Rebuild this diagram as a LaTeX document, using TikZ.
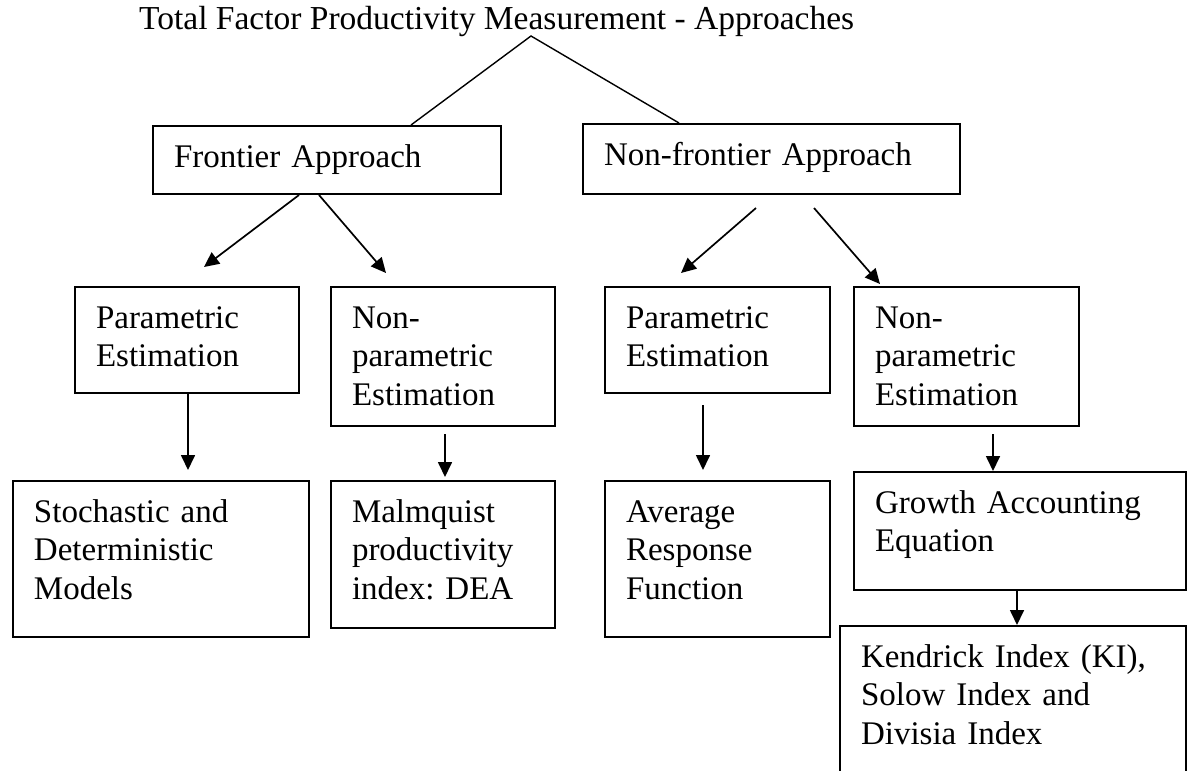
\documentclass[tikz,border=0pt]{standalone}
\usepackage{fontspec}
\setmainfont{Liberation Serif}
\usepackage{tikz}
\usetikzlibrary{calc}
\usetikzlibrary{arrows.meta}
\tikzset{head/.tip={Triangle[length=15pt,width=14pt]}}
\tikzset{
    box/.style 2 args={draw, line width=2pt, anchor=north west, align=left,
        inner xsep=21pt, inner ysep=0pt, text height=41pt,
        text width=#1, text depth=#2},
    flow/.style={-head, line width=1.7pt}
}
\frenchspacing

\begin{document}
\begin{tikzpicture}[x=1pt,y=-1pt,font=\fontsize{33}{38.5}\selectfont]
            \useasboundingbox (0,0) rectangle (1192,771);

            \node (title) [anchor=base west,inner sep=0pt,font=\fontsize{33.5}{38.5}\selectfont] at (139,29) {Total Factor Productivity Measurement - Approaches};
            \coordinate (apex) at (531,36);

            \node (frontier)    [box={306pt}{27pt}] at (152,125)  {Frontier Approach};
            \node (nonfrontier) [box={335pt}{29pt}] at (582,123)  {Non-frontier Approach};

            \node (par1)  [box={182pt}{65pt}]  at (74,286)   {Parametric\\Estimation};
            \node (npar1) [box={182pt}{98pt}]  at (330,286)  {Non-\\parametric\\Estimation};
            \node (par2)  [box={183pt}{65pt}]  at (604,286)  {Parametric\\Estimation};
            \node (npar2) [box={183pt}{98pt}]  at (853,286)  {Non-\\parametric\\Estimation};

            \node (stoch)  [box={254pt}{115pt}] at (12,480)  {Stochastic and\\Deterministic\\Models};
            \node (malm)   [box={182pt}{106pt}] at (330,480) {Malmquist\\productivity\\index: DEA};
            \node (avg)    [box={183pt}{115pt}] at (604,480) {Average\\Response\\Function};
            \node (growth) [box={290pt}{77pt}]  at (853,471) {Growth Accounting\\Equation};
            \node (kend)   [box={304pt}{109pt}] at (839,625) {Kendrick Index (KI),\\Solow Index and\\Divisia Index};

            % title to the two approaches
            \draw[line width=1.4pt] ([xshift=84pt]frontier.north) -- (apex) -- ([xshift=-92.5pt]nonfrontier.north);

            % frontier branch
            \draw[flow] ([xshift=-28pt]frontier.south) -- ([xshift=17pt,yshift=19pt]par1.north);
            \draw[flow] ([xshift=-8pt]frontier.south)  -- ([xshift=-57pt,yshift=13pt]npar1.north);
            \draw[flow] ([xshift=1pt]par1.south)       -- ([xshift=27pt,yshift=10pt]stoch.north);
            \draw[flow] ([xshift=2pt,yshift=-7pt]npar1.south) -- ([xshift=2pt,yshift=3pt]malm.north);

            % non-frontier branch
            \draw[flow] ([xshift=-15.5pt,yshift=-13pt]nonfrontier.south) -- ([xshift=-36.5pt,yshift=13pt]par2.north);
            \draw[flow] ([xshift=42.5pt,yshift=-13pt]nonfrontier.south)  -- ([xshift=-86.5pt,yshift=2pt]npar2.north);
            \draw[flow] ([xshift=-14.5pt,yshift=-11pt]par2.south) -- ([xshift=-14.5pt,yshift=10pt]avg.north);
            \draw[flow] ([xshift=26.5pt,yshift=-7pt]npar2.south)  -- ([xshift=-27pt]growth.north);
            \draw[flow] ([xshift=-3pt]growth.south) -- ([xshift=4pt]kend.north);
        \end{tikzpicture}
\end{document}
